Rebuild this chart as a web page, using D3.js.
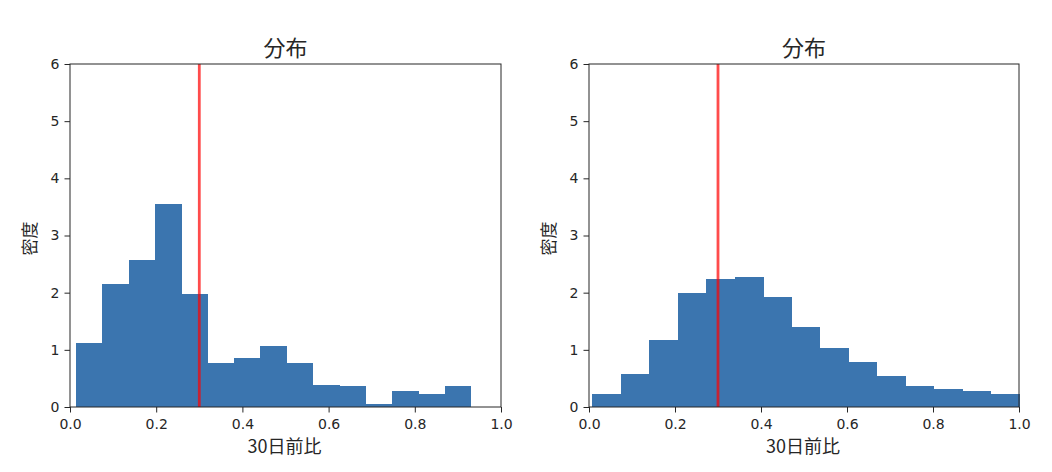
<!DOCTYPE html>
<html lang="ja">
<head>
<meta charset="utf-8">
<style>
  body { margin: 0; background: #fff; }
  text { fill: #262626; }
</style>
</head>
<body>
<script src="https://d3js.org/d3.v7.min.js"></script>
<script>
// histogram bin edges and densities
var leftStart = 0.014, leftEnd = 0.93;
var leftDensity = [1.12, 2.16, 2.57, 3.55, 1.97, 0.77, 0.85, 1.07, 0.77, 0.39, 0.36, 0.06, 0.28, 0.23, 0.36];
var rightStart = 0.008, rightEnd = 1.0;
var rightDensity = [0.23, 0.58, 1.18, 2.0, 2.24, 2.27, 1.92, 1.4, 1.04, 0.79, 0.55, 0.36, 0.31, 0.28, 0.23];
var xTicks = [0, 0.2, 0.4, 0.6, 0.8, 1.0];
var yTicks = [0, 1, 2, 3, 4, 5, 6];
var threshold = 0.3;
var titleText = "分布", xLabel = "30日前比", yLabel = "密度";

var width = 1052, height = 472;
var cjk = "'Noto Sans CJK JP', 'Noto Sans CJK SC', sans-serif";
var svg = d3.select("body").append("svg")
  .attr("width", width)
  .attr("height", height);

function panel(left, right, start, end, dens) {
  var top = 64, bottom = 407;
  var x = d3.scaleLinear().domain([0, 1]).range([left, right]);
  var y = d3.scaleLinear().domain([0, 6]).range([bottom, top]);
  var g = svg.append("g");
  var step = (end - start) / dens.length;
  var bins = dens.map(function (d, i) {
    return { x0: start + i * step, x1: start + (i + 1) * step, v: d };
  });

  g.selectAll("rect").data(bins).join("rect")
    .attr("x", function (d) { return x(d.x0); })
    .attr("width", function (d) { return x(d.x1) - x(d.x0) + 0.5; })
    .attr("y", function (d) { return y(d.v); })
    .attr("height", function (d) { return y(0) - y(d.v); })
    .attr("fill", "#3b75af")
    .attr("shape-rendering", "crispEdges");

  g.append("line")
    .attr("x1", x(threshold)).attr("x2", x(threshold))
    .attr("y1", top).attr("y2", bottom)
    .attr("stroke", "red").attr("stroke-opacity", 0.7).attr("stroke-width", 2.8);

  // frame
  g.append("rect")
    .attr("x", left).attr("y", top)
    .attr("width", right - left).attr("height", bottom - top)
    .attr("fill", "none").attr("stroke", "#262626").attr("stroke-width", 1);

  var xa = g.append("g").attr("transform", "translate(0," + bottom + ")")
    .call(d3.axisBottom(x).tickValues(xTicks).tickFormat(d3.format(".1f")).tickSize(5.5).tickPadding(7));
  var ya = g.append("g").attr("transform", "translate(" + left + ",0)")
    .call(d3.axisLeft(y).tickValues(yTicks).tickFormat(d3.format("d")).tickSize(5.5).tickPadding(5));
  [xa, ya].forEach(function (a) {
    a.select(".domain").remove();
    a.selectAll("line").attr("stroke", "#262626");
    a.selectAll("text").attr("font-size", 14).style("fill", "#262626")
      .attr("font-family", "DejaVu Sans, sans-serif");
  });

  g.append("text")
    .attr("x", (left + right) / 2).attr("y", 56)
    .attr("text-anchor", "middle").attr("font-size", 22)
    .attr("font-family", cjk)
    .text(titleText);
  g.append("text")
    .attr("x", (left + right) / 2 - 1).attr("y", 453)
    .attr("text-anchor", "middle").attr("font-size", 18)
    .attr("font-family", cjk)
    .text(xLabel);
  g.append("text")
    .attr("transform", "translate(" + (left - 34) + "," + ((top + bottom) / 2 + 3) + ") rotate(-90)")
    .attr("text-anchor", "middle").attr("font-size", 17)
    .attr("font-family", cjk)
    .text(yLabel);
}

panel(70, 501, leftStart, leftEnd, leftDensity);
panel(589, 1019, rightStart, rightEnd, rightDensity);
</script>
</body>
</html>
